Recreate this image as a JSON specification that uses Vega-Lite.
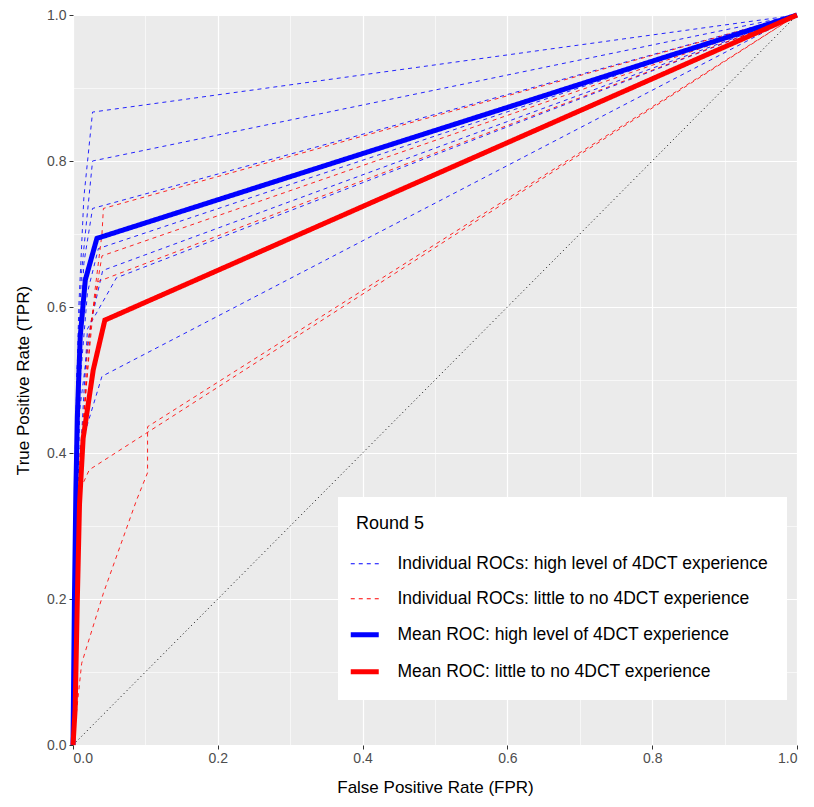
{
  "$schema": "https://vega.github.io/schema/vega-lite/v6.json",
  "width": 724,
  "height": 730,
  "autosize": {"type": "none"},
  "padding": {"left": 73, "top": 15, "right": 17, "bottom": 62},
  "background": "white",
  "config": {
    "view": {"fill": "#EBEBEB", "stroke": null},
    "font": "Liberation Sans",
    "axis": {
      "domain": false,
      "gridColor": "white",
      "tickColor": "#333333",
      "tickSize": 4,
      "labelColor": "#4D4D4D",
      "labelFontSize": 14,
      "labelFont": "Liberation Sans",
      "titleFont": "Liberation Sans",
      "titleFontSize": 17,
      "titleFontWeight": "normal",
      "titleColor": "black"
    }
  },
  "datasets": {
    "rocs": [
      {"series": "Individual ROCs: high level of 4DCT experience", "id": "bA", "ord": 0, "fpr": 0, "tpr": 0},
      {"series": "Individual ROCs: high level of 4DCT experience", "id": "bA", "ord": 1, "fpr": 0.003, "tpr": 0.4},
      {"series": "Individual ROCs: high level of 4DCT experience", "id": "bA", "ord": 2, "fpr": 0.008, "tpr": 0.6},
      {"series": "Individual ROCs: high level of 4DCT experience", "id": "bA", "ord": 3, "fpr": 0.015, "tpr": 0.75},
      {"series": "Individual ROCs: high level of 4DCT experience", "id": "bA", "ord": 4, "fpr": 0.027, "tpr": 0.867},
      {"series": "Individual ROCs: high level of 4DCT experience", "id": "bA", "ord": 5, "fpr": 1, "tpr": 1},
      {"series": "Individual ROCs: high level of 4DCT experience", "id": "bB", "ord": 0, "fpr": 0, "tpr": 0},
      {"series": "Individual ROCs: high level of 4DCT experience", "id": "bB", "ord": 1, "fpr": 0.005, "tpr": 0.5},
      {"series": "Individual ROCs: high level of 4DCT experience", "id": "bB", "ord": 2, "fpr": 0.012, "tpr": 0.65},
      {"series": "Individual ROCs: high level of 4DCT experience", "id": "bB", "ord": 3, "fpr": 0.027, "tpr": 0.8},
      {"series": "Individual ROCs: high level of 4DCT experience", "id": "bB", "ord": 4, "fpr": 1, "tpr": 1},
      {"series": "Individual ROCs: high level of 4DCT experience", "id": "bC", "ord": 0, "fpr": 0, "tpr": 0},
      {"series": "Individual ROCs: high level of 4DCT experience", "id": "bC", "ord": 1, "fpr": 0.005, "tpr": 0.45},
      {"series": "Individual ROCs: high level of 4DCT experience", "id": "bC", "ord": 2, "fpr": 0.015, "tpr": 0.66},
      {"series": "Individual ROCs: high level of 4DCT experience", "id": "bC", "ord": 3, "fpr": 0.027, "tpr": 0.735},
      {"series": "Individual ROCs: high level of 4DCT experience", "id": "bC", "ord": 4, "fpr": 1, "tpr": 1},
      {"series": "Individual ROCs: high level of 4DCT experience", "id": "bD", "ord": 0, "fpr": 0, "tpr": 0},
      {"series": "Individual ROCs: high level of 4DCT experience", "id": "bD", "ord": 1, "fpr": 0.01, "tpr": 0.5},
      {"series": "Individual ROCs: high level of 4DCT experience", "id": "bD", "ord": 2, "fpr": 0.02, "tpr": 0.62},
      {"series": "Individual ROCs: high level of 4DCT experience", "id": "bD", "ord": 3, "fpr": 0.035, "tpr": 0.68},
      {"series": "Individual ROCs: high level of 4DCT experience", "id": "bD", "ord": 4, "fpr": 1, "tpr": 1},
      {"series": "Individual ROCs: high level of 4DCT experience", "id": "bF", "ord": 0, "fpr": 0, "tpr": 0},
      {"series": "Individual ROCs: high level of 4DCT experience", "id": "bF", "ord": 1, "fpr": 0.008, "tpr": 0.45},
      {"series": "Individual ROCs: high level of 4DCT experience", "id": "bF", "ord": 2, "fpr": 0.025, "tpr": 0.58},
      {"series": "Individual ROCs: high level of 4DCT experience", "id": "bF", "ord": 3, "fpr": 0.041, "tpr": 0.65},
      {"series": "Individual ROCs: high level of 4DCT experience", "id": "bF", "ord": 4, "fpr": 1, "tpr": 1},
      {"series": "Individual ROCs: high level of 4DCT experience", "id": "bH", "ord": 0, "fpr": 0, "tpr": 0},
      {"series": "Individual ROCs: high level of 4DCT experience", "id": "bH", "ord": 1, "fpr": 0.005, "tpr": 0.3},
      {"series": "Individual ROCs: high level of 4DCT experience", "id": "bH", "ord": 2, "fpr": 0.02, "tpr": 0.57},
      {"series": "Individual ROCs: high level of 4DCT experience", "id": "bH", "ord": 3, "fpr": 0.06, "tpr": 0.64},
      {"series": "Individual ROCs: high level of 4DCT experience", "id": "bH", "ord": 4, "fpr": 1, "tpr": 1},
      {"series": "Individual ROCs: high level of 4DCT experience", "id": "bI", "ord": 0, "fpr": 0, "tpr": 0},
      {"series": "Individual ROCs: high level of 4DCT experience", "id": "bI", "ord": 1, "fpr": 0.003, "tpr": 0.2},
      {"series": "Individual ROCs: high level of 4DCT experience", "id": "bI", "ord": 2, "fpr": 0.008, "tpr": 0.4},
      {"series": "Individual ROCs: high level of 4DCT experience", "id": "bI", "ord": 3, "fpr": 0.04, "tpr": 0.505},
      {"series": "Individual ROCs: high level of 4DCT experience", "id": "bI", "ord": 4, "fpr": 1, "tpr": 1},
      {"series": "Individual ROCs: little to no 4DCT experience", "id": "r1", "ord": 0, "fpr": 0, "tpr": 0},
      {"series": "Individual ROCs: little to no 4DCT experience", "id": "r1", "ord": 1, "fpr": 0.01, "tpr": 0.4},
      {"series": "Individual ROCs: little to no 4DCT experience", "id": "r1", "ord": 2, "fpr": 0.03, "tpr": 0.62},
      {"series": "Individual ROCs: little to no 4DCT experience", "id": "r1", "ord": 3, "fpr": 0.04, "tpr": 0.7},
      {"series": "Individual ROCs: little to no 4DCT experience", "id": "r1", "ord": 4, "fpr": 0.042, "tpr": 0.735},
      {"series": "Individual ROCs: little to no 4DCT experience", "id": "r1", "ord": 5, "fpr": 1, "tpr": 1},
      {"series": "Individual ROCs: little to no 4DCT experience", "id": "r2", "ord": 0, "fpr": 0, "tpr": 0},
      {"series": "Individual ROCs: little to no 4DCT experience", "id": "r2", "ord": 1, "fpr": 0.008, "tpr": 0.35},
      {"series": "Individual ROCs: little to no 4DCT experience", "id": "r2", "ord": 2, "fpr": 0.025, "tpr": 0.58},
      {"series": "Individual ROCs: little to no 4DCT experience", "id": "r2", "ord": 3, "fpr": 0.04, "tpr": 0.67},
      {"series": "Individual ROCs: little to no 4DCT experience", "id": "r2", "ord": 4, "fpr": 1, "tpr": 1},
      {"series": "Individual ROCs: little to no 4DCT experience", "id": "r3", "ord": 0, "fpr": 0, "tpr": 0},
      {"series": "Individual ROCs: little to no 4DCT experience", "id": "r3", "ord": 1, "fpr": 0.004, "tpr": 0.2},
      {"series": "Individual ROCs: little to no 4DCT experience", "id": "r3", "ord": 2, "fpr": 0.02, "tpr": 0.55},
      {"series": "Individual ROCs: little to no 4DCT experience", "id": "r3", "ord": 3, "fpr": 0.035, "tpr": 0.635},
      {"series": "Individual ROCs: little to no 4DCT experience", "id": "r3", "ord": 4, "fpr": 1, "tpr": 1},
      {"series": "Individual ROCs: little to no 4DCT experience", "id": "r4", "ord": 0, "fpr": 0, "tpr": 0},
      {"series": "Individual ROCs: little to no 4DCT experience", "id": "r4", "ord": 1, "fpr": 0.012, "tpr": 0.112},
      {"series": "Individual ROCs: little to no 4DCT experience", "id": "r4", "ord": 2, "fpr": 0.042, "tpr": 0.208},
      {"series": "Individual ROCs: little to no 4DCT experience", "id": "r4", "ord": 3, "fpr": 0.088, "tpr": 0.336},
      {"series": "Individual ROCs: little to no 4DCT experience", "id": "r4", "ord": 4, "fpr": 0.103, "tpr": 0.373},
      {"series": "Individual ROCs: little to no 4DCT experience", "id": "r4", "ord": 5, "fpr": 0.103, "tpr": 0.436},
      {"series": "Individual ROCs: little to no 4DCT experience", "id": "r4", "ord": 6, "fpr": 1, "tpr": 1},
      {"series": "Individual ROCs: little to no 4DCT experience", "id": "r5", "ord": 0, "fpr": 0, "tpr": 0},
      {"series": "Individual ROCs: little to no 4DCT experience", "id": "r5", "ord": 1, "fpr": 0.005, "tpr": 0.2},
      {"series": "Individual ROCs: little to no 4DCT experience", "id": "r5", "ord": 2, "fpr": 0.01, "tpr": 0.35},
      {"series": "Individual ROCs: little to no 4DCT experience", "id": "r5", "ord": 3, "fpr": 0.0225, "tpr": 0.377},
      {"series": "Individual ROCs: little to no 4DCT experience", "id": "r5", "ord": 4, "fpr": 1, "tpr": 1}
    ],
    "means": [
      {"series": "Mean ROC: high level of 4DCT experience", "id": "mb", "ord": 0, "fpr": 0, "tpr": 0},
      {"series": "Mean ROC: high level of 4DCT experience", "id": "mb", "ord": 1, "fpr": 0.002, "tpr": 0.2},
      {"series": "Mean ROC: high level of 4DCT experience", "id": "mb", "ord": 2, "fpr": 0.004, "tpr": 0.35},
      {"series": "Mean ROC: high level of 4DCT experience", "id": "mb", "ord": 3, "fpr": 0.006, "tpr": 0.45},
      {"series": "Mean ROC: high level of 4DCT experience", "id": "mb", "ord": 4, "fpr": 0.01, "tpr": 0.56},
      {"series": "Mean ROC: high level of 4DCT experience", "id": "mb", "ord": 5, "fpr": 0.017, "tpr": 0.637},
      {"series": "Mean ROC: high level of 4DCT experience", "id": "mb", "ord": 6, "fpr": 0.033, "tpr": 0.694},
      {"series": "Mean ROC: high level of 4DCT experience", "id": "mb", "ord": 7, "fpr": 1, "tpr": 1},
      {"series": "Mean ROC: little to no 4DCT experience", "id": "mr", "ord": 0, "fpr": 0, "tpr": 0},
      {"series": "Mean ROC: little to no 4DCT experience", "id": "mr", "ord": 1, "fpr": 0.003, "tpr": 0.05},
      {"series": "Mean ROC: little to no 4DCT experience", "id": "mr", "ord": 2, "fpr": 0.006, "tpr": 0.2},
      {"series": "Mean ROC: little to no 4DCT experience", "id": "mr", "ord": 3, "fpr": 0.009, "tpr": 0.33},
      {"series": "Mean ROC: little to no 4DCT experience", "id": "mr", "ord": 4, "fpr": 0.014, "tpr": 0.42},
      {"series": "Mean ROC: little to no 4DCT experience", "id": "mr", "ord": 5, "fpr": 0.028, "tpr": 0.514},
      {"series": "Mean ROC: little to no 4DCT experience", "id": "mr", "ord": 6, "fpr": 0.044, "tpr": 0.582},
      {"series": "Mean ROC: little to no 4DCT experience", "id": "mr", "ord": 7, "fpr": 1, "tpr": 1}
    ],
    "diag": [
      {"fpr": 0, "tpr": 0},
      {"fpr": 1, "tpr": 1}
    ]
  },
  "layer": [
    {
      "data": {"name": "diag"},
      "mark": {"type": "line", "color": "black", "strokeWidth": 1, "strokeDash": [1, 3]},
      "encoding": {
        "x": {
          "field": "fpr", "type": "quantitative",
          "scale": {"domain": [0, 1], "nice": false, "zero": false},
          "axis": {
            "title": "False Positive Rate (FPR)",
            "values": [0, 0.1, 0.2, 0.3, 0.4, 0.5, 0.6, 0.7, 0.8, 0.9, 1],
            "labelExpr": "(round(datum.value*10) % 2 == 0) ? format(datum.value, '.1f') : ''",
            "gridWidth": {"condition": {"test": "round(datum.value*10) % 2 == 0", "value": 1.2}, "value": 0.6},
            "tickOpacity": {"condition": {"test": "round(datum.value*10) % 2 == 0", "value": 1}, "value": 0},
            "titlePadding": 14,
            "labelPadding": 2
          }
        },
        "y": {
          "field": "tpr", "type": "quantitative",
          "scale": {"domain": [0, 1], "nice": false, "zero": false},
          "axis": {
            "title": "True Positive Rate (TPR)",
            "values": [0, 0.1, 0.2, 0.3, 0.4, 0.5, 0.6, 0.7, 0.8, 0.9, 1],
            "labelExpr": "(round(datum.value*10) % 2 == 0) ? format(datum.value, '.1f') : ''",
            "gridWidth": {"condition": {"test": "round(datum.value*10) % 2 == 0", "value": 1.2}, "value": 0.6},
            "tickOpacity": {"condition": {"test": "round(datum.value*10) % 2 == 0", "value": 1}, "value": 0},
            "titlePadding": 14,
            "labelPadding": 3
          }
        }
      }
    },
    {
      "data": {"name": "rocs"},
      "mark": {"type": "line", "opacity": 0.85, "strokeWidth": 1},
      "encoding": {
        "x": {"field": "fpr", "type": "quantitative"},
        "y": {"field": "tpr", "type": "quantitative"},
        "detail": {"field": "id"},
        "order": {"field": "ord"},
        "color": {"field": "series", "type": "nominal"},
        "strokeDash": {"field": "series", "type": "nominal"}
      }
    },
    {
      "data": {"name": "means"},
      "mark": {"type": "line", "strokeWidth": 5},
      "encoding": {
        "x": {"field": "fpr", "type": "quantitative"},
        "y": {"field": "tpr", "type": "quantitative"},
        "detail": {"field": "id"},
        "order": {"field": "ord"},
        "color": {
          "field": "series", "type": "nominal",
          "scale": {
            "domain": ["Individual ROCs: high level of 4DCT experience", "Individual ROCs: little to no 4DCT experience", "Mean ROC: high level of 4DCT experience", "Mean ROC: little to no 4DCT experience"],
            "range": ["#0000FF", "#FF0000", "#0000FF", "#FF0000"]
          },
          "legend": {
            "title": "Round 5",
            "orient": "none",
            "legendX": 265,
            "legendY": 482,
            "fillColor": "white",
            "padding": 18,
            "titleFontSize": 18,
            "titleFontWeight": "normal",
            "titleColor": "black",
            "titleFont": "Liberation Sans",
            "titlePadding": 22,
            "labelFont": "Liberation Sans",
            "labelFontSize": 17.5,
            "labelColor": "black",
            "labelLimit": 600,
            "labelOffset": 24,
            "symbolType": "stroke",
            "symbolSize": 784,
            "rowPadding": 16,
            "encode": {
              "symbols": {
                "update": {
                  "strokeWidth": {"signal": "datum.index >= 2 ? 5 : 1"}
                }
              }
            }
          }
        },
        "strokeDash": {
          "field": "series", "type": "nominal",
          "scale": {
            "domain": ["Individual ROCs: high level of 4DCT experience", "Individual ROCs: little to no 4DCT experience", "Mean ROC: high level of 4DCT experience", "Mean ROC: little to no 4DCT experience"],
            "range": [[4, 4], [4, 4], [1, 0], [1, 0]]
          },
          "legend": {"title": "Round 5"}
        }
      }
    }
  ]
}
